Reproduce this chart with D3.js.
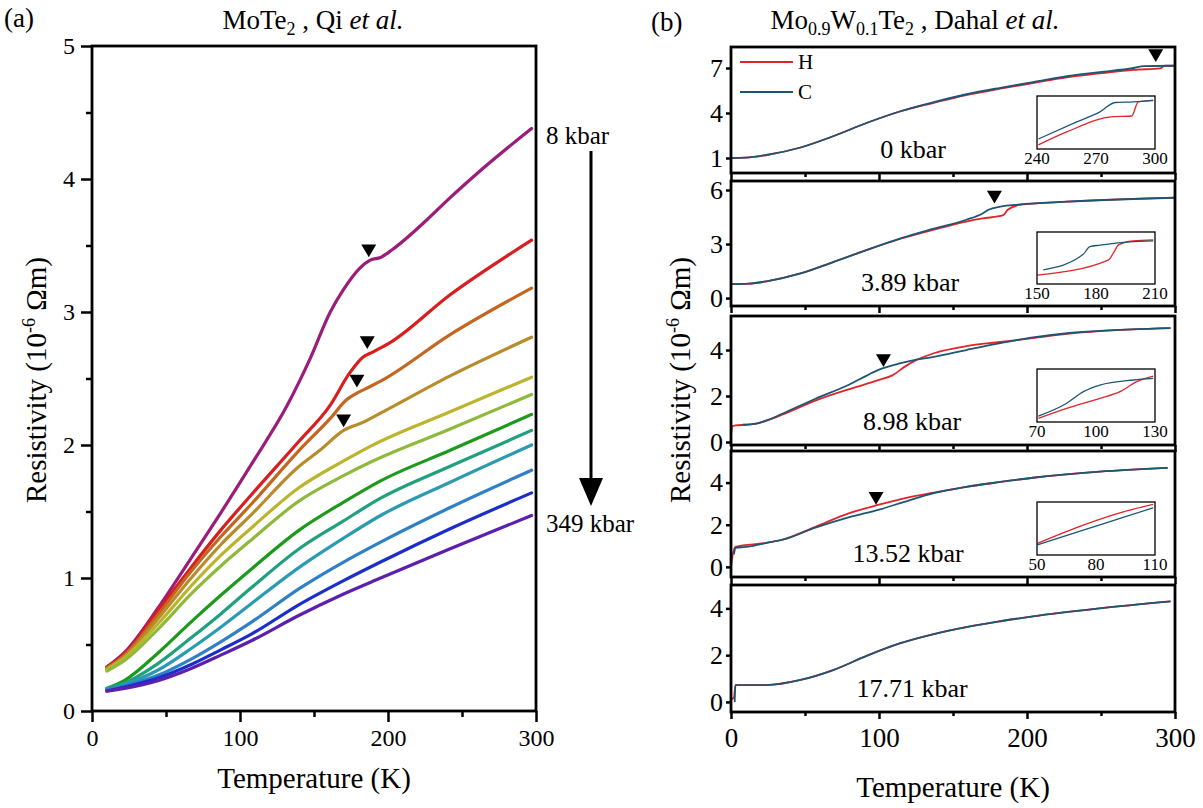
<!DOCTYPE html>
<html>
<head>
<meta charset="utf-8">
<script src="https://cdn.jsdelivr.net/npm/d3@7"></script>
<style>
  body { margin: 0; background: #fff; }
  text { font-family: "Liberation Serif", "Times New Roman", serif; fill: #000; }
</style>
</head>
<body>
<div id="chart"></div>
<script>
// ---------- panel (a): MoTe2, Qi et al. (T in K, resistivity in 1e-6 Ohm m) ----------
const qi8 = [[10,0.33],[22,0.44],[45,0.78],[67,1.15],[87,1.49],[108,1.86],[132,2.3],[147,2.64],[161,3.0],[170,3.17],[181,3.33],[188,3.39],[195,3.41],[203,3.47],[226,3.69],[242,3.86],[260,4.04],[297,4.38]];
const qiRed = [[10,0.33],[22,0.43],[45,0.76],[67,1.08],[87,1.36],[108,1.63],[140,2.03],[161,2.3],[174,2.54],[183,2.66],[190,2.7],[195,2.73],[200,2.76],[242,3.13],[297,3.54]];
const qiOrange = [[10,0.32],[22,0.42],[45,0.73],[67,1.05],[87,1.31],[108,1.56],[140,1.96],[161,2.2],[172,2.34],[179,2.39],[188,2.44],[195,2.48],[242,2.83],[297,3.18]];
const qiOlive = [[10,0.32],[22,0.41],[45,0.7],[67,1.0],[87,1.25],[108,1.48],[140,1.84],[154,1.96],[170,2.11],[183,2.17],[195,2.24],[242,2.52],[297,2.81]];
const qiYellow = [[10,0.31],[22,0.4],[45,0.66],[67,0.94],[87,1.17],[108,1.38],[140,1.68],[170,1.88],[188,1.99],[242,2.25],[297,2.51]];
const qiLime = [[10,0.3],[22,0.38],[45,0.62],[67,0.88],[87,1.09],[108,1.29],[140,1.58],[170,1.77],[188,1.87],[242,2.12],[297,2.38]];
const qiGreen = [[10,0.17],[22,0.23],[45,0.44],[67,0.67],[87,0.87],[108,1.07],[140,1.36],[170,1.57],[195,1.73],[242,1.96],[297,2.23]];
const qiTealGreen = [[10,0.17],[22,0.21],[45,0.36],[67,0.55],[87,0.73],[108,0.93],[140,1.22],[170,1.43],[195,1.6],[242,1.84],[297,2.11]];
const qiTeal = [[10,0.16],[22,0.2],[45,0.31],[67,0.47],[87,0.63],[108,0.81],[140,1.08],[170,1.3],[195,1.47],[242,1.72],[297,2.0]];
const qiSky = [[10,0.16],[22,0.19],[45,0.27],[67,0.39],[87,0.52],[108,0.67],[140,0.92],[170,1.12],[195,1.27],[242,1.53],[297,1.81]];
const qiBlue = [[10,0.15],[22,0.18],[45,0.25],[67,0.35],[87,0.46],[108,0.58],[140,0.8],[170,0.98],[195,1.12],[242,1.37],[297,1.64]];
const qi349 = [[10,0.15],[22,0.17],[45,0.23],[67,0.32],[87,0.42],[108,0.53],[140,0.72],[170,0.88],[195,1.0],[242,1.22],[297,1.47]];
const qiSeries = [qi8, qiRed, qiOrange, qiOlive, qiYellow, qiLime, qiGreen, qiTealGreen, qiTeal, qiSky, qiBlue, qi349];
const qiColors = ["#9c1c7a","#d81e1e","#c4661f","#b98c2b","#bcb42d","#8fb93a","#1c9a1c","#20a07c","#2a9bb0","#2f80c6","#1b2fc8","#5c1fae"];
const qiMarkers = [[187,3.39],[186,2.7],[179,2.41],[170,2.11]];
const qiYTicks = [0,1,2,3,4,5];
const tempTicks = [0,100,200,300];

// ---------- panel (b): Mo0.9W0.1Te2, Dahal et al. ----------
const dahalPressures = ["0 kbar","3.89 kbar","8.98 kbar","13.52 kbar","17.71 kbar"];
const dahalH0 = [[0,1.0],[10,1.02],[24,1.2],[47,1.7],[69,2.45],[92,3.35],[114,4.1],[137,4.68],[159,5.2],[182,5.62],[204,6.0],[227,6.38],[249,6.64],[272,6.88],[290,6.97],[293,7.15],[300,7.15]];
const dahalC0 = [[0,1.0],[10,1.02],[24,1.2],[47,1.7],[69,2.45],[92,3.35],[114,4.1],[137,4.72],[159,5.25],[182,5.68],[204,6.05],[227,6.45],[249,6.72],[272,7.0],[279,7.13],[300,7.15]];
const dahalH1 = [[0,0.77],[12,0.8],[24,0.93],[47,1.37],[69,2.0],[92,2.68],[114,3.28],[137,3.8],[159,4.25],[170,4.42],[184,4.6],[187,4.9],[195,5.17],[227,5.35],[300,5.58]];
const dahalC1 = [[0,0.77],[12,0.8],[24,0.93],[47,1.37],[69,2.0],[92,2.68],[114,3.3],[137,3.85],[159,4.35],[170,4.7],[174,4.9],[182,5.08],[195,5.2],[227,5.35],[300,5.57]];
const dahalH2 = [[0,0.3],[1,0.7],[3,0.72],[10,0.75],[17,0.8],[25,0.95],[35,1.2],[57,1.8],[80,2.3],[100,2.7],[109,2.9],[118,3.3],[125,3.56],[137,3.86],[159,4.17],[182,4.35],[204,4.52],[227,4.7],[249,4.82],[297,4.95]];
const dahalC2 = [[8,0.75],[17,0.8],[25,0.96],[35,1.24],[57,1.88],[80,2.5],[92,2.9],[100,3.15],[114,3.42],[123,3.55],[137,3.7],[159,4.0],[182,4.3],[204,4.55],[227,4.73],[249,4.83],[297,4.95]];
const dahalH3 = [[0,0.0],[1,0.5],[3,0.95],[24,1.14],[35,1.3],[57,1.9],[80,2.55],[100,2.95],[120,3.3],[137,3.52],[159,3.8],[182,4.03],[204,4.23],[249,4.52],[295,4.7]];
const dahalC3 = [[2,0.6],[3,0.9],[10,0.95],[24,1.14],[35,1.29],[57,1.86],[80,2.36],[100,2.72],[120,3.15],[137,3.5],[159,3.8],[182,4.03],[204,4.23],[249,4.52],[295,4.7]];
const dahalH4 = [[0,0.1],[2,0.2],[3,0.72],[24,0.72],[47,0.94],[69,1.36],[92,1.98],[114,2.5],[137,2.9],[159,3.2],[182,3.45],[204,3.66],[249,4.0],[297,4.3]];
const dahalC4 = [[2.5,0.0],[3,0.72],[24,0.72],[47,0.94],[69,1.36],[92,1.98],[114,2.5],[137,2.9],[159,3.2],[182,3.45],[204,3.66],[249,4.0],[297,4.3]];
const dahalH = [dahalH0, dahalH1, dahalH2, dahalH3, dahalH4];
const dahalC = [dahalC0, dahalC1, dahalC2, dahalC3, dahalC4];
const dahalYDomains = [[0,8.4],[-0.44,6.5],[-0.13,5.48],[-0.48,5.5],[-0.43,5.0]];
const dahalYTicks = [[1,4,7],[0,3,6],[0,2,4],[0,2,4],[0,2,4]];
const dahalMarkers = [[287,7.4],[178,5.25],[103,3.26],[98,2.95],null];

// insets (zoom on the transition)
const insetXDomains = [[240,300],[150,210],[70,130],[50,110]];
const insetYDomains = [[6.4,7.3],[4.0,5.7],[2.0,4.6],[1.3,3.3]];
const insetTicks = [[240,270,300],[150,180,210],[70,100,130],[50,80,110]];
const insetH = [
  [[240.7,6.47],[255.1,6.69],[278.8,6.95],[288.1,6.96],[291.5,7.2],[299.1,7.22]],
  [[150.2,4.29],[186.2,4.78],[189.7,5.11],[191.3,5.27],[198.9,5.41],[209.1,5.44]],
  [[70.7,2.18],[85.1,2.67],[102,3.16],[112.2,3.49],[120.7,3.98],[129.1,4.25]],
  [[50.2,1.74],[73.5,2.43],[93.9,2.93],[109.1,3.21]]
];
const insetC = [
  [[240.7,6.57],[260.2,6.86],[272,7.03],[279.7,7.19],[289,7.2],[299.1,7.23]],
  [[153.2,4.46],[173.5,4.97],[176.9,5.22],[182,5.27],[197.3,5.38],[209.1,5.41]],
  [[70.7,2.29],[85.1,2.92],[93.6,3.49],[102,3.81],[119,4.06],[129.1,4.14]],
  [[50.2,1.68],[73.5,2.24],[92.2,2.68],[109.1,3.08]]
];

const W = 1203, H = 808;
const svg = d3.select("#chart").append("svg").attr("width", W).attr("height", H)
  .attr("font-family", '"Liberation Serif", serif');

const lineFor = (x, y) => d3.line().x(d => x(d[0])).y(d => y(d[1])).curve(d3.curveMonotoneX);

function styleAxis(g, w) {
  g.attr("font-family", '"Liberation Serif", serif');
  g.select(".domain").remove();
  g.selectAll(".tick line").attr("stroke", "#000").attr("stroke-width", w);
  g.selectAll(".tick text").attr("fill", "#000");
}

function frame(x0, y0, x1, y1, w) {
  svg.append("rect").attr("x", x0).attr("y", y0).attr("width", x1 - x0).attr("height", y1 - y0)
    .attr("fill", "none").attr("stroke", "#000").attr("stroke-width", w);
}

function tri(cx, tipY, s) {
  svg.append("path")
    .attr("d", `M${cx - s / 2},${tipY - s * 0.85}L${cx + s / 2},${tipY - s * 0.85}L${cx},${tipY}Z`)
    .attr("fill", "#000");
}

// ===== panel (a) =====
const xa = d3.scaleLinear().domain([0, 300]).range([92, 536]);
const ya = d3.scaleLinear().domain([0, 5]).range([711, 46]);

svg.append("g").attr("transform", "translate(92,0)")
  .call(d3.axisLeft(ya).tickValues(d3.range(0.5, 5, 1)).tickSize(6).tickFormat(""))
  .call(g => styleAxis(g, 2.5));
svg.append("g").attr("transform", "translate(92,0)")
  .call(d3.axisLeft(ya).tickValues(qiYTicks).tickSize(11).tickPadding(6).tickFormat(d3.format("d")))
  .call(g => styleAxis(g, 2.5))
  .selectAll(".tick text").attr("font-size", 24);
svg.append("g").attr("transform", "translate(0,711)")
  .call(d3.axisBottom(xa).tickValues([50, 150, 250]).tickSize(6).tickFormat(""))
  .call(g => styleAxis(g, 2.5));
svg.append("g").attr("transform", "translate(0,711)")
  .call(d3.axisBottom(xa).tickValues(tempTicks).tickSize(11).tickPadding(7).tickFormat(d3.format("d")))
  .call(g => styleAxis(g, 2.5))
  .selectAll(".tick text").attr("font-size", 24);

const lineA = lineFor(xa, ya);
svg.append("g").selectAll("path").data(qiSeries).join("path")
  .attr("d", lineA).attr("fill", "none")
  .attr("stroke", (d, i) => qiColors[i]).attr("stroke-width", 3.2)
  .attr("stroke-linejoin", "round").attr("stroke-linecap", "round");
frame(92, 46, 536, 711, 2.8);

qiMarkers.forEach(m => tri(xa(m[0]), ya(m[1]) - 3, 15));

svg.append("text").attr("x", 546).attr("y", 144).attr("font-size", 25).text("8 kbar");
svg.append("text").attr("x", 546).attr("y", 532).attr("font-size", 25).text("349 kbar");
svg.append("line").attr("x1", 591).attr("x2", 591).attr("y1", 151).attr("y2", 488)
  .attr("stroke", "#000").attr("stroke-width", 3);
svg.append("path").attr("d", "M579,478L603,478L591,506Z").attr("fill", "#000");

svg.append("text").attr("x", 314).attr("y", 788).attr("text-anchor", "middle").attr("font-size", 29)
  .text("Temperature (K)");

function resistivityLabel(cx, cy) {
  const t = svg.append("text").attr("transform", `translate(${cx},${cy}) rotate(-90)`)
    .attr("text-anchor", "middle").attr("font-size", 29);
  t.append("tspan").text("Resistivity (10");
  t.append("tspan").attr("font-size", 18).attr("dy", -11).text("-6");
  t.append("tspan").attr("dy", 11).text(" \u03A9m)");
}
resistivityLabel(46, 380);

// titles
svg.append("text").attr("x", 4).attr("y", 27).attr("font-size", 27).text("(a)");
const ta = svg.append("text").attr("x", 313).attr("y", 29).attr("text-anchor", "middle").attr("font-size", 27);
ta.append("tspan").text("MoTe");
ta.append("tspan").attr("font-size", 18).attr("dy", 6).text("2");
ta.append("tspan").attr("dy", -6).text(" , Qi ");
ta.append("tspan").attr("font-style", "italic").text("et al.");

svg.append("text").attr("x", 651).attr("y", 31).attr("font-size", 27).text("(b)");
const tb = svg.append("text").attr("x", 915).attr("y", 29).attr("text-anchor", "middle").attr("font-size", 27);
tb.append("tspan").text("Mo");
tb.append("tspan").attr("font-size", 18).attr("dy", 6).text("0.9");
tb.append("tspan").attr("dy", -6).text("W");
tb.append("tspan").attr("font-size", 18).attr("dy", 6).text("0.1");
tb.append("tspan").attr("dy", -6).text("Te");
tb.append("tspan").attr("font-size", 18).attr("dy", 6).text("2");
tb.append("tspan").attr("dy", -6).text(" , Dahal ");
tb.append("tspan").attr("font-style", "italic").text("et al.");

// ===== panel (b) =====
const xb = d3.scaleLinear().domain([0, 300]).range([731, 1175]);
const subBounds = [[47,173],[181,306],[316,445],[451,577],[585,712]];
const insetBoxes = [[96,149],[232,284],[369,422],[502,555]];
const labelX = [913, 910, 912, 908, 912];

subBounds.forEach((b, i) => {
  const [top, bottom] = b;
  const y = d3.scaleLinear().domain(dahalYDomains[i]).range([bottom, top]);
  const last = i === subBounds.length - 1;

  svg.append("g").attr("transform", "translate(731,0)")
    .call(d3.axisLeft(y).tickValues(dahalYTicks[i]).tickSize(5).tickPadding(3).tickFormat(d3.format("d")))
    .call(g => styleAxis(g, 2.5))
    .selectAll(".tick text").attr("font-size", 26);
  svg.append("g").attr("transform", `translate(0,${bottom})`)
    .call(d3.axisBottom(xb).tickValues([50, 150, 250]).tickSize(4).tickFormat(""))
    .call(g => styleAxis(g, 2.5));
  const xg = svg.append("g").attr("transform", `translate(0,${bottom})`)
    .call(d3.axisBottom(xb).tickValues(tempTicks).tickSize(7).tickPadding(9)
      .tickFormat(last ? d3.format("d") : ""))
    .call(g => styleAxis(g, 2.5));
  xg.selectAll(".tick text").attr("font-size", 27);

  const line = lineFor(xb, y);
  svg.append("path").datum(dahalH[i]).attr("d", line).attr("fill", "none")
    .attr("stroke", "#e0242a").attr("stroke-width", 1.8);
  svg.append("path").datum(dahalC[i]).attr("d", line).attr("fill", "none")
    .attr("stroke", "#1d5674").attr("stroke-width", 1.8);

  frame(731, top, 1175, bottom, 2.8);

  if (dahalMarkers[i]) tri(xb(dahalMarkers[i][0]), y(dahalMarkers[i][1]), 15);

  svg.append("text").attr("x", labelX[i]).attr("y", bottom - 15).attr("text-anchor", "middle")
    .attr("font-size", 26).text(dahalPressures[i]);

  if (i < insetBoxes.length) {
    const [it, ib] = insetBoxes[i];
    const xi = d3.scaleLinear().domain(insetXDomains[i]).range([1037, 1155]);
    const yi = d3.scaleLinear().domain(insetYDomains[i]).range([ib, it]);
    const li = lineFor(xi, yi);
    svg.append("path").datum(insetH[i]).attr("d", li).attr("fill", "none")
      .attr("stroke", "#e0242a").attr("stroke-width", 1.3);
    svg.append("path").datum(insetC[i]).attr("d", li).attr("fill", "none")
      .attr("stroke", "#1d5674").attr("stroke-width", 1.3);
    frame(1037, it, 1155, ib, 1.3);
    svg.append("g").selectAll("text").data(insetTicks[i]).join("text")
      .attr("x", d => xi(d)).attr("y", ib + 15).attr("text-anchor", "middle")
      .attr("font-size", 17).text(d => d);
  }
});

// legend in top subplot
const legend = [["H", "#e0242a", 62], ["C", "#1d5674", 92]];
legend.forEach(([name, color, ly]) => {
  svg.append("line").attr("x1", 740).attr("x2", 793).attr("y1", ly).attr("y2", ly)
    .attr("stroke", color).attr("stroke-width", 1.8);
  svg.append("text").attr("x", 798).attr("y", ly + 7).attr("font-size", 21).text(name);
});

svg.append("text").attr("x", 953).attr("y", 797).attr("text-anchor", "middle").attr("font-size", 29)
  .text("Temperature (K)");
resistivityLabel(690, 380);
</script>
</body>
</html>
